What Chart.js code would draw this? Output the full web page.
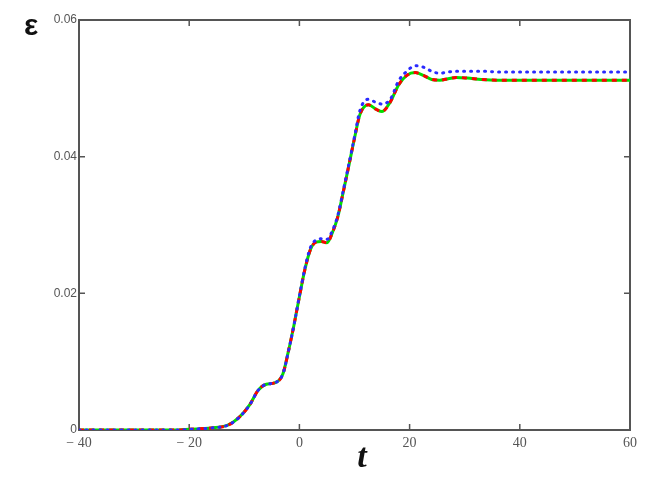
<!DOCTYPE html>
<html>
<head>
<meta charset="utf-8">
<script src="https://cdn.jsdelivr.net/npm/chart.js@4/dist/chart.umd.min.js"></script>
<style>
  html, body { margin: 0; padding: 0; background: #fff; }
  #wrap { width: 658px; height: 480px; }
</style>
</head>
<body>
<div id="wrap"><canvas id="strain" width="658" height="480"></canvas></div>
<script>
// time samples
var times = [-40, -30, -22, -20, -16, -13, -11, -9, -7.5, -6, -4.5, -3, -2, -1, 0, 1, 2, 3, 4, 5, 6, 7, 8, 9, 10,
             11, 12.5, 14, 15, 16.5, 18, 19.5, 21, 22.5, 24, 25.5, 27, 28.5, 30.5, 33, 36, 40, 50, 60];

// solid green curve
var greenEps = [0, 0, 0, 0.0001, 0.0003, 0.0007, 0.0018, 0.0037, 0.0058, 0.0067, 0.0069, 0.0082, 0.0115, 0.0153,
                0.0195, 0.0235, 0.0264, 0.0275, 0.0276, 0.0274, 0.0289, 0.0313, 0.0350, 0.0388, 0.0427,
                0.0462, 0.0476, 0.0469, 0.0466, 0.0480, 0.0505, 0.0519, 0.0523, 0.0519, 0.0513, 0.0512,
                0.0514, 0.0516, 0.0515, 0.0513, 0.0512, 0.0512, 0.0512, 0.0512];

// dashed red curve (sits on the green one)
var redEps = [0, 0, 0, 0.0001, 0.0003, 0.0007, 0.0018, 0.0037, 0.0058, 0.0067, 0.0069, 0.0082, 0.0115, 0.0153,
              0.0195, 0.0235, 0.0264, 0.0275, 0.0276, 0.0274, 0.0289, 0.0313, 0.0350, 0.0388, 0.0427,
              0.0462, 0.0476, 0.0469, 0.0466, 0.0480, 0.0505, 0.0519, 0.0523, 0.0519, 0.0513, 0.0512,
              0.0514, 0.0516, 0.0515, 0.0513, 0.0512, 0.0512, 0.0512, 0.0512];

// dotted blue curve
var blueEps = [0, 0, 0, 0.0001, 0.0003, 0.0007, 0.0018, 0.0037, 0.0058, 0.0067, 0.0069, 0.0082, 0.0115, 0.0153,
               0.0196, 0.0237, 0.0267, 0.0278, 0.0280, 0.0279, 0.0292, 0.0315, 0.0352, 0.0390, 0.0429,
               0.0468, 0.0484, 0.0479, 0.0477, 0.0484, 0.0511, 0.0525, 0.0533, 0.0531, 0.0525, 0.0522,
               0.0524, 0.0525, 0.0525, 0.0525, 0.0524, 0.0524, 0.0524, 0.0524];

var xTicks = [-40, -20, 0, 20, 40, 60];
var yTicks = [0, 0.02, 0.04, 0.06];

function pts(ys) {
  return times.map(function (t, i) { return { x: t, y: ys[i] }; });
}

function fmtX(v) {
  return v < 0 ? "\u2212 " + Math.abs(v) : String(v);
}

// Mathcad style box with inward ticks, plus the two axis symbols
var framePlugin = {
  id: "frame",
  beforeDatasetsDraw: function (chart) {
    var ctx = chart.ctx, a = chart.chartArea;
    var xs = chart.scales.x, ys = chart.scales.y;
    ctx.save();
    ctx.strokeStyle = "#555";
    ctx.lineWidth = 2;
    ctx.strokeRect(a.left, a.top, a.right - a.left, a.bottom - a.top);
    ctx.lineWidth = 1.5;
    ctx.beginPath();
    xTicks.forEach(function (v) {
      var px = xs.getPixelForValue(v);
      ctx.moveTo(px, a.bottom); ctx.lineTo(px, a.bottom - 6);
      ctx.moveTo(px, a.top); ctx.lineTo(px, a.top + 6);
    });
    yTicks.forEach(function (v) {
      var py = ys.getPixelForValue(v);
      ctx.moveTo(a.left, py); ctx.lineTo(a.left + 6, py);
      ctx.moveTo(a.right, py); ctx.lineTo(a.right - 6, py);
    });
    ctx.stroke();
    ctx.restore();
  },
  afterDraw: function (chart) {
    var ctx = chart.ctx;
    ctx.save();
    ctx.fillStyle = "#111";
    ctx.textAlign = "center";
    ctx.textBaseline = "middle";
    ctx.font = "bold 30px 'Liberation Sans'";
    ctx.fillText("\u03b5", 31, 27);
    ctx.font = "italic bold 34px 'Liberation Serif'";
    ctx.fillText("t", 362, 458);
    ctx.restore();
  }
};

new Chart(document.getElementById("strain"), {
  type: "line",
  data: {
    datasets: [{
      label: "green",
      data: pts(greenEps),
      borderColor: "#00dd00",
      borderWidth: 3,
      cubicInterpolationMode: "monotone",
      pointRadius: 0,
      order: 3
    }, {
      label: "red",
      data: pts(redEps),
      borderColor: "#ff0000",
      borderWidth: 3,
      borderDash: [5, 5],
      cubicInterpolationMode: "monotone",
      pointRadius: 0,
      order: 2
    }, {
      label: "blue",
      data: pts(blueEps),
      borderColor: "#2a2aff",
      borderWidth: 3,
      borderDash: [1, 6],
      borderCapStyle: "round",
      cubicInterpolationMode: "monotone",
      pointRadius: 0,
      order: 1
    }]
  },
  options: {
    responsive: false,
    animation: false,
    layout: { padding: { left: 0, top: 20, right: 28, bottom: 0 } },
    plugins: { legend: { display: false }, tooltip: { enabled: false } },
    scales: {
      x: {
        type: "linear",
        min: -40,
        max: 60,
        afterFit: function (s) { s.height = 50; },
        afterBuildTicks: function (s) { s.ticks = xTicks.map(function (v) { return { value: v }; }); },
        grid: { display: false, drawTicks: false },
        border: { display: false },
        ticks: {
          padding: 5,
          color: "#555",
          font: { family: "'Liberation Serif'", size: 14 },
          callback: function (v) { return fmtX(v); }
        }
      },
      y: {
        min: 0,
        max: 0.06,
        afterFit: function (s) { s.width = 79; },
        afterBuildTicks: function (s) { s.ticks = yTicks.map(function (v) { return { value: v }; }); },
        grid: { display: false, drawTicks: false },
        border: { display: false },
        ticks: {
          padding: 2,
          color: "#555",
          font: { family: "'Liberation Sans'", size: 12 },
          callback: function (v) { return v === 0 ? "0" : v.toFixed(2); }
        }
      }
    }
  },
  plugins: [framePlugin]
});
</script>
</body>
</html>
